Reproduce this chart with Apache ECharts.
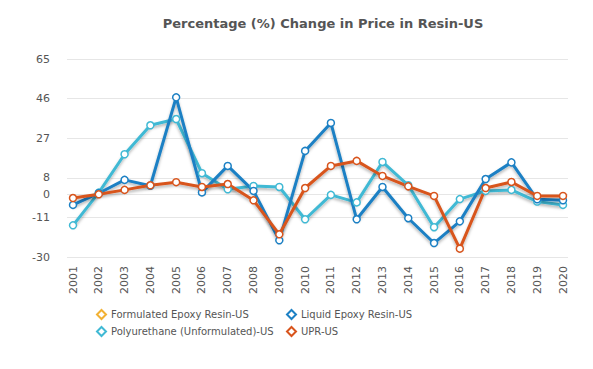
<!DOCTYPE html>
<html>
<head>
<meta charset="utf-8">
<script src="https://cdn.jsdelivr.net/npm/echarts@6/dist/echarts.min.js"></script>
<style>
html,body{margin:0;padding:0;background:#fff;}
#c{width:593px;height:369px;}
</style>
</head>
<body>
<div id="c"></div>
<script>
var years = ['2001','2002','2003','2004','2005','2006','2007','2008','2009','2010','2011','2012','2013','2014','2015','2016','2017','2018','2019','2020'];
var yTicks = [-30,-11,0,8,27,46,65];
var formulatedEpoxy = [null,null,null,null,null,null,null,null,null,null,null,null,null,null,null,null,null,null,null,null];
var liquidEpoxy = [-5.0,0.6,7.0,4.2,46.6,1.0,13.7,1.7,-22.0,20.9,34.3,-11.9,3.6,-11.4,-23.3,-12.9,7.4,15.4,-2.3,-2.8];
var polyurethane = [-14.8,0.9,19.3,33.2,36.2,10.2,2.5,4.1,3.6,-11.9,-0.2,-3.8,15.6,4.4,-15.7,-2.2,1.7,2.2,-3.4,-5.0];
var upr = [-1.7,0.1,2.2,4.4,5.9,3.6,5.0,-2.8,-19.1,3.1,13.7,16.1,8.9,3.9,-0.7,-26.0,3.1,6.0,-0.7,-0.7];

var names = ['Formulated Epoxy Resin-US','Liquid Epoxy Resin-US','Polyurethane (Unformulated)-US','UPR-US'];
var colors = ['#f2b134','#1c80c4','#40b9d4','#d8541c'];
var seriesData = [formulatedEpoxy, liquidEpoxy, polyurethane, upr];
var font = 'DejaVu Sans, Verdana, sans-serif';

var series = names.map(function(n,i){
  return {
    name: n, type: 'line', data: seriesData[i], xAxisIndex: 1, yAxisIndex: 1,
    symbol: 'circle', symbolSize: 7, showSymbol: true,
    lineStyle: {width: 3, color: colors[i], shadowColor: 'rgba(0,0,0,0.3)', shadowBlur: 3, shadowOffsetY: 2},
    itemStyle: {color: '#fff', borderColor: colors[i], borderWidth: 1.5},
    emphasis: {disabled: true}
  };
});
series = [series[0], series[2], series[1], series[3]];

function legendItem(n){
  var i = names.indexOf(n);
  return {name: n, itemStyle: {color: '#fff', borderColor: colors[i], borderWidth: 2}};
}

var chart = echarts.init(document.getElementById('c'), null, {renderer: 'svg'});
chart.setOption({
  animation: false,
  color: colors,
  title: {
    text: 'Percentage (%) Change in Price in Resin-US',
    left: 318, top: 12, textAlign: 'center',
    textStyle: {fontFamily: font, fontSize: 13, fontWeight: 'bold', color: '#555'}
  },
  legend: [{
    orient: 'vertical', left: 91, top: 304, itemGap: 6,
    icon: 'diamond', itemWidth: 9, itemHeight: 9,
    data: [legendItem(names[0]), legendItem(names[2])],
    textStyle: {fontFamily: font, fontSize: 10, color: '#555'}
  },{
    orient: 'vertical', left: 281, top: 304, itemGap: 6,
    icon: 'diamond', itemWidth: 9, itemHeight: 9,
    data: [legendItem(names[1]), legendItem(names[3])],
    textStyle: {fontFamily: font, fontSize: 10, color: '#555'}
  }],
  grid: [
    {left: 67, right: 25, top: 59, bottom: 112},
    {left: 73, right: 30, top: 59, bottom: 112}
  ],
  xAxis: [{
    type: 'value', gridIndex: 0, show: false, min: 0, max: 1
  },{
    type: 'category', gridIndex: 1, data: years, boundaryGap: false,
    axisLine: {show: false}, axisTick: {show: false}, splitLine: {show: false},
    axisLabel: {interval: 0, rotate: 90, margin: 9, fontFamily: font, fontSize: 11, color: '#555'}
  }],
  yAxis: [{
    type: 'value', gridIndex: 0, min: -30, max: 65,
    axisLine: {show: false},
    axisTick: {show: false, customValues: yTicks},
    axisLabel: {customValues: yTicks, margin: 17, fontFamily: font, fontSize: 11, color: '#555'},
    splitLine: {show: true, customValues: yTicks, lineStyle: {color: '#e6e6e6', width: 1}}
  },{
    type: 'value', gridIndex: 1, min: -30, max: 65, show: false, splitLine: {show: false}
  }],
  series: series
});
</script>
</body>
</html>
